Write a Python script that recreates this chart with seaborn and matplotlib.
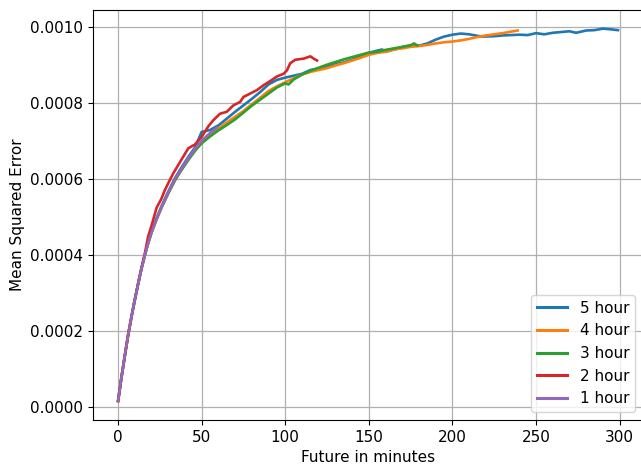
import numpy as np
import pandas as pd
import matplotlib
matplotlib.use("Agg")
import matplotlib.pyplot as plt
from matplotlib.ticker import FormatStrFormatter
import seaborn as sns

labels = ["5 hour", "4 hour", "3 hour", "2 hour", "1 hour"]
colors = ["#1f77b4", "#ff7f0e", "#2ca02c", "#d62728", "#9467bd"]

t_early = [0, 2, 4, 6, 8, 10, 12, 14, 16, 18, 20, 23, 26, 30, 34, 38, 42, 46]

# 1 hour (values in 1e-5)
x_1h = t_early + [50, 55, 59]
y_1h = [1.7, 7.8, 13.5, 19.0, 23.8, 28.3, 32.5, 36.5, 40.0, 43.2, 46.0, 49.5, 52.7,
        56.5, 60.0, 62.8, 65.5, 68.0, 70.2, 72.2, 73.6]

# 2 hour
x_2h = [0, 2, 4, 6, 8, 10, 12, 14, 16, 18, 20, 23, 26, 28, 30, 33, 36, 39, 42, 46,
        50, 54, 57, 61, 65, 69, 73, 75, 79, 83, 87, 91, 95, 99, 101, 103, 106, 111,
        115, 117, 119]
y_2h = [1.7, 7.8, 13.5, 19.0, 23.8, 28.3, 32.6, 36.7, 40.5, 45.0, 47.8, 52.5, 55.0,
        57.2, 59.0, 61.6, 63.8, 66.0, 68.2, 69.2, 71.2, 74.0, 75.6, 77.3, 77.8, 79.5,
        80.4, 81.7, 82.6, 83.5, 84.8, 85.9, 87.1, 87.8, 88.7, 90.6, 91.5, 91.8, 92.4,
        91.8, 91.3]

# 3 hour
x_3h = t_early + [50, 55, 60, 65, 70, 75, 80, 85, 90, 95, 100, 102, 105, 110, 115,
                  120, 125, 130, 135, 140, 145, 150, 155, 160, 165, 170, 175, 177, 179]
y_3h = [1.7, 7.8, 13.5, 19.0, 23.8, 28.3, 32.5, 36.5, 40.0, 43.2, 46.0, 49.5, 52.6,
        56.3, 59.7, 62.5, 65.1, 67.5, 69.5, 71.3, 72.9, 74.3, 75.8, 77.6, 79.4, 81.0,
        82.6, 84.2, 85.3, 85.0, 86.3, 87.6, 88.6, 89.4, 90.2, 90.9, 91.6, 92.2, 92.8,
        93.4, 93.6, 94.1, 94.5, 94.9, 95.3, 95.8, 95.3]

# 4 hour
x_4h = t_early + [50, 55, 60, 65, 70, 75, 80, 85, 90, 95, 100, 105, 110, 115, 120,
                  125, 130, 135, 140, 145, 150, 155, 160, 165, 170, 175, 180, 185,
                  190, 195, 200, 205, 210, 215, 220, 225, 230, 235, 239]
y_4h = [1.7, 7.8, 13.5, 19.0, 23.8, 28.3, 32.5, 36.5, 40.0, 43.2, 46.0, 49.5, 52.6,
        56.4, 59.8, 62.7, 65.3, 67.8, 70.0, 71.8, 73.4, 75.0, 76.5, 78.0, 79.8, 81.5,
        83.3, 84.5, 85.6, 86.6, 87.6, 88.3, 88.8, 89.3, 90.0, 90.6, 91.3, 92.0, 92.8,
        93.3, 93.6, 94.2, 94.5, 94.9, 95.1, 95.4, 95.8, 96.1, 96.3, 96.6, 97.0, 97.5,
        97.9, 98.2, 98.5, 98.9, 99.2]

# 5 hour
x_5h = t_early + [50, 55, 59, 60, 65, 70, 75, 80, 85, 90, 95, 100, 105, 110, 115, 120,
                  125, 130, 135, 140, 145, 150, 155, 158, 160, 165, 170, 175, 180,
                  185, 190, 195, 200, 205, 210, 215, 218, 225, 230, 235, 240, 245,
                  250, 255, 260, 265, 270, 274, 280, 285, 290, 295, 299]
y_5h = [1.7, 7.8, 13.5, 19.0, 23.8, 28.3, 32.5, 36.6, 40.1, 43.4, 46.3, 49.8, 53.0,
        56.8, 60.3, 63.2, 65.9, 68.4, 72.5, 73.0, 74.0, 74.2, 76.0, 77.8, 79.5, 81.2,
        83.0, 85.0, 86.2, 86.8, 87.3, 87.8, 88.8, 89.2, 89.8, 90.3, 90.8, 91.5, 92.3,
        93.3, 93.9, 94.2, 93.6, 94.2, 94.8, 95.3, 95.2, 95.8, 96.8, 97.6, 98.1, 98.4,
        98.2, 97.8, 97.6, 97.7, 97.9, 98.0, 98.1, 98.0, 98.5, 98.2, 98.6, 98.8, 99.0,
        98.6, 99.2, 99.3, 99.7, 99.5, 99.3]

series = {
    "5 hour": (x_5h, y_5h),
    "4 hour": (x_4h, y_4h),
    "3 hour": (x_3h, y_3h),
    "2 hour": (x_2h, y_2h),
    "1 hour": (x_1h, y_1h),
}

frames = []
for name, (xs, ys) in series.items():
    frames.append(pd.DataFrame({"minute": xs,
                                "mse": np.array(ys) * 1e-5,
                                "horizon": name}))
df = pd.concat(frames, ignore_index=True)

plt.rcParams["font.size"] = 11
fig = plt.figure(figsize=(6.41, 4.68), dpi=100)
ax = fig.add_axes([93 / 641, 1 - 420 / 468, (643 - 93) / 641, (420 - 10) / 468])

sns.lineplot(data=df, x="minute", y="mse", hue="horizon", hue_order=labels,
             palette=colors, linewidth=1.9, estimator=None, sort=False, ax=ax)

ax.set_xlim(-15, 314)
ax.set_ylim(-0.0000333, 0.001046)
ax.set_xticks([0, 50, 100, 150, 200, 250, 300])
ax.set_yticks([0, 0.0002, 0.0004, 0.0006, 0.0008, 0.0010])
ax.yaxis.set_major_formatter(FormatStrFormatter("%.4f"))
ax.tick_params(labelsize=11)
ax.grid(True, color="#b0b0b0", linewidth=0.9)
ax.set_axisbelow(True)
ax.set_xlabel("Future in minutes", fontsize=11)
ax.set_ylabel("Mean Squared Error", fontsize=11)

handles, lbls = ax.get_legend_handles_labels()
for h in handles:
    h.set_linewidth(2.2)
ax.legend(handles, lbls, loc="lower right", fontsize=11)

fig.savefig("out.png", dpi=100)
